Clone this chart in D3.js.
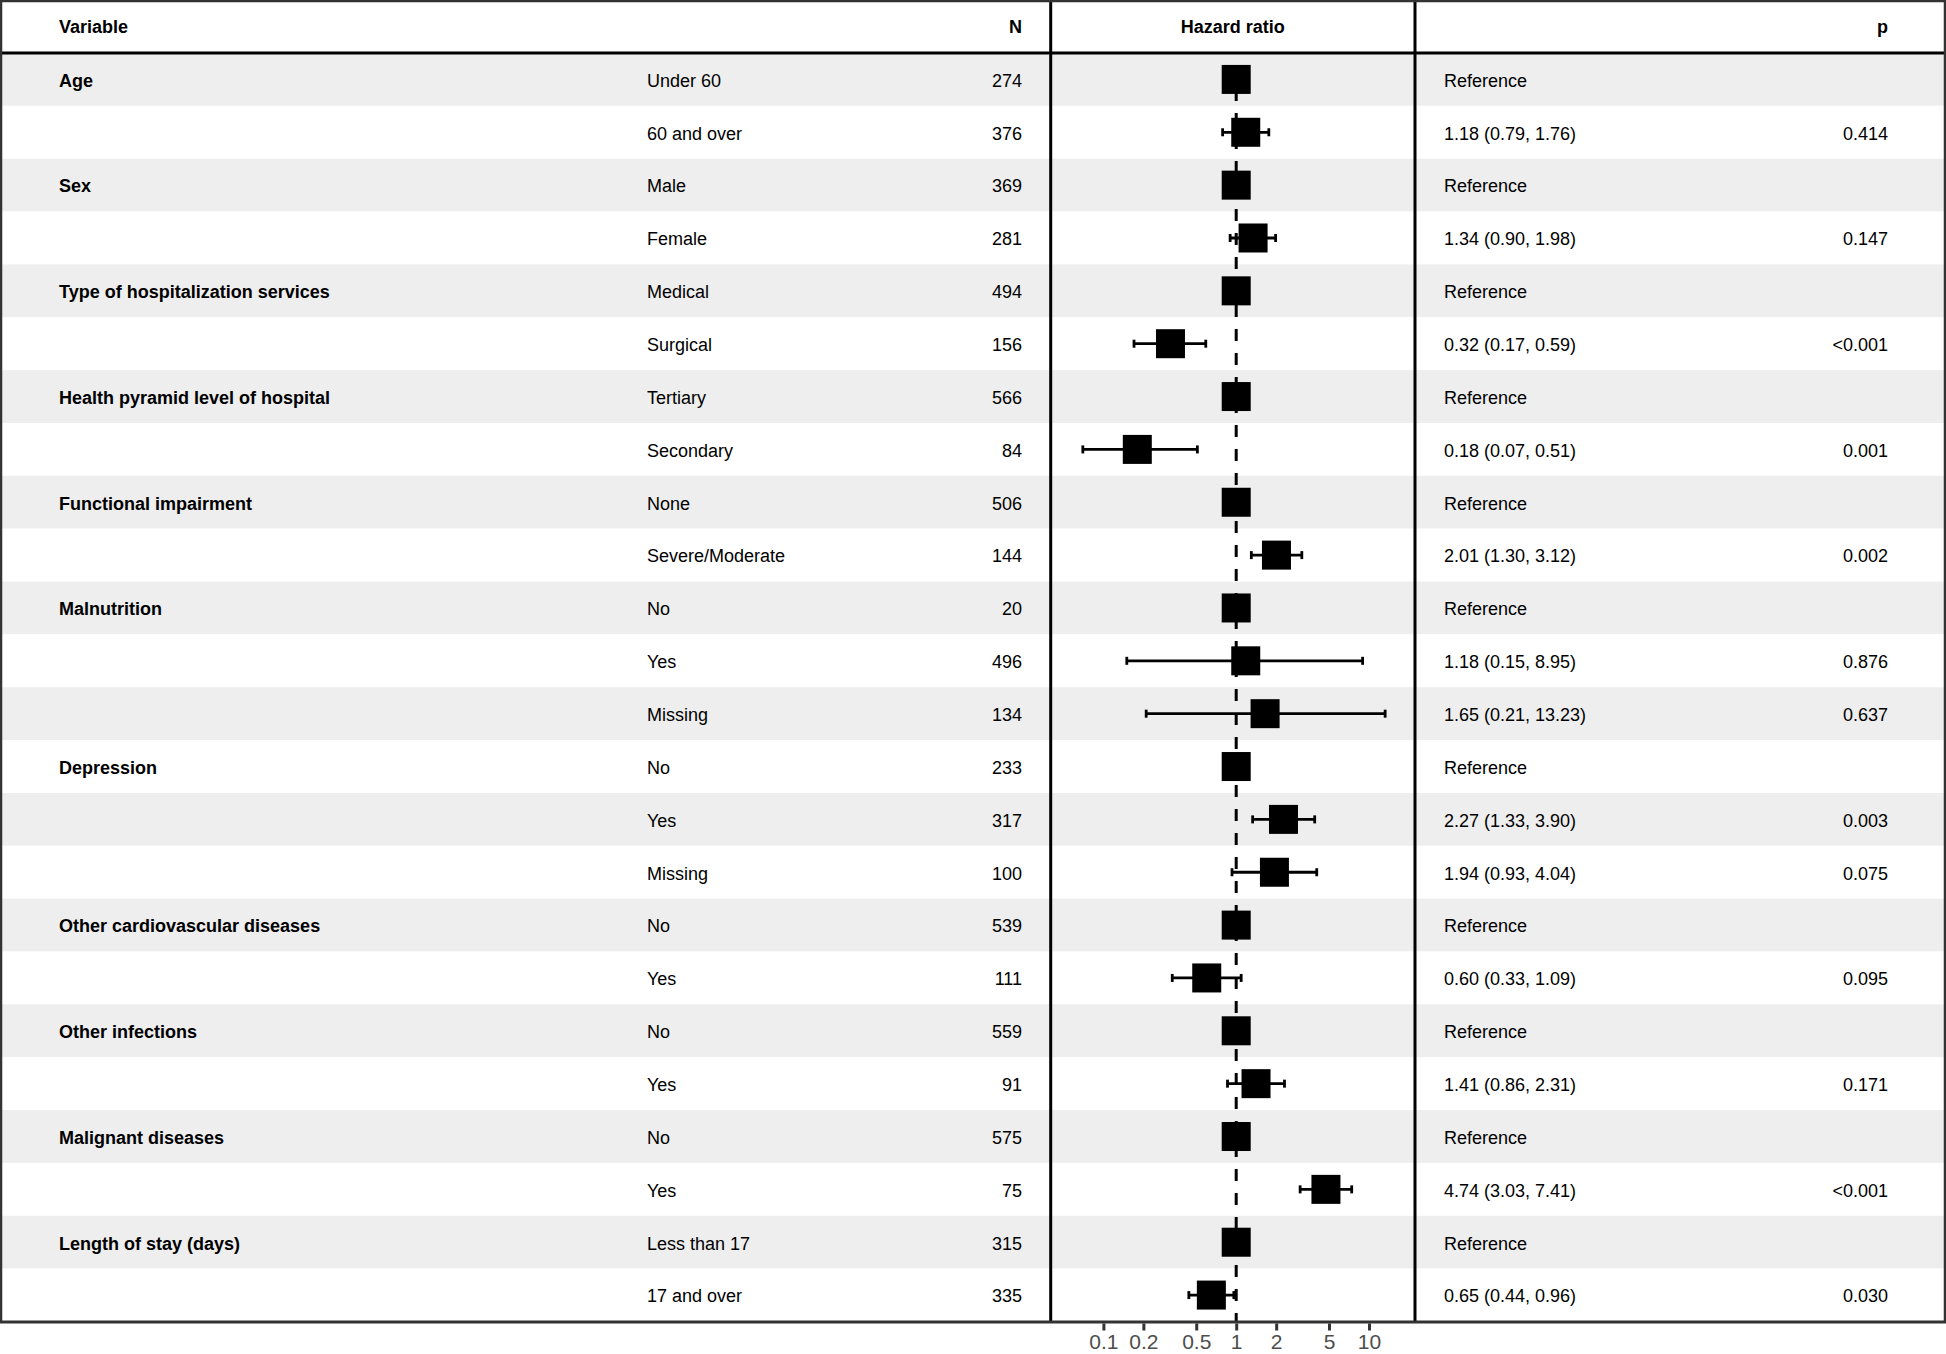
<!DOCTYPE html>
<html>
<head>
<meta charset="utf-8">
<script src="https://cdn.jsdelivr.net/npm/d3@7"></script>
<style>
  html, body { margin: 0; padding: 0; background: #fff; }
  svg { display: block; font-family: "Liberation Sans", Arial, Helvetica, sans-serif; }
</style>
</head>
<body>
<svg id="chart"></svg>
<script>
// Table rows
const variables = ["Age", "", "Sex", "", "Type of hospitalization services", "",
  "Health pyramid level of hospital", "", "Functional impairment", "",
  "Malnutrition", "", "", "Depression", "", "", "Other cardiovascular diseases", "",
  "Other infections", "", "Malignant diseases", "", "Length of stay (days)", ""];
const levels = ["Under 60", "60 and over", "Male", "Female", "Medical", "Surgical",
  "Tertiary", "Secondary", "None", "Severe/Moderate", "No", "Yes", "Missing",
  "No", "Yes", "Missing", "No", "Yes", "No", "Yes", "No", "Yes", "Less than 17", "17 and over"];
const counts = [274, 376, 369, 281, 494, 156, 566, 84, 506, 144, 20, 496, 134,
  233, 317, 100, 539, 111, 559, 91, 575, 75, 315, 335];
// null = reference level (HR 1)
const hr    = [null, 1.18, null, 1.34, null, 0.32, null, 0.18, null, 2.01, null, 1.18, 1.65,
  null, 2.27, 1.94, null, 0.60, null, 1.41, null, 4.74, null, 0.65];
const lower = [null, 0.79, null, 0.90, null, 0.17, null, 0.07, null, 1.30, null, 0.15, 0.21,
  null, 1.33, 0.93, null, 0.33, null, 0.86, null, 3.03, null, 0.44];
const upper = [null, 1.76, null, 1.98, null, 0.59, null, 0.51, null, 3.12, null, 8.95, 13.23,
  null, 3.90, 4.04, null, 1.09, null, 2.31, null, 7.41, null, 0.96];
const pvals = ["", "0.414", "", "0.147", "", "<0.001", "", "0.001", "", "0.002", "", "0.876", "0.637",
  "", "0.003", "0.075", "", "0.095", "", "0.171", "", "<0.001", "", "0.030"];
const tickValues = [0.1, 0.2, 0.5, 1, 2, 5, 10];

const width = 1946, height = 1354;
const headerH = 53, tableBottom = 1321.5;
const panelLeft = 1050.7, panelRight = 1415;
const fmt = d3.format(".2f");

const rows = levels.map((lvl, i) => ({
  i, variable: variables[i], level: lvl, n: counts[i],
  hr: hr[i], lo: lower[i], hi: upper[i], p: pvals[i]
}));

const svg = d3.select("#chart").attr("width", width).attr("height", height);

const y = d3.scaleBand()
  .domain(rows.map(d => d.i))
  .range([headerH, tableBottom]);

const x = d3.scaleLog()
  .domain([0.1, 10])
  .range([1103.4, 1369]);

// Row stripes
svg.append("g").selectAll("rect")
  .data(rows)
  .enter()
  .append("rect")
  .attr("x", 0)
  .attr("y", d => y(d.i))
  .attr("width", width)
  .attr("height", y.bandwidth())
  .style("fill", d => d.i % 2 === 0 ? "#eeeeee" : "#ffffff");

// Text columns
const textG = svg.append("g").style("font-size", "18px").style("fill", "#000");
const cy = d => y(d.i) + y.bandwidth() / 2;

textG.selectAll("text.var")
  .data(rows.filter(d => d.variable))
  .enter().append("text")
  .attr("x", 59).attr("y", d => cy(d) + 1).attr("dy", "0.35em")
  .style("font-weight", "bold")
  .text(d => d.variable);

textG.selectAll("text.lvl")
  .data(rows)
  .enter().append("text")
  .attr("x", 647).attr("y", d => cy(d) + 1).attr("dy", "0.35em")
  .text(d => d.level);

textG.selectAll("text.n")
  .data(rows)
  .enter().append("text")
  .attr("x", 1022).attr("y", d => cy(d) + 1).attr("dy", "0.35em")
  .style("text-anchor", "end")
  .text(d => d.n);

textG.selectAll("text.est")
  .data(rows)
  .enter().append("text")
  .attr("x", 1444).attr("y", d => cy(d) + 1).attr("dy", "0.35em")
  .text(d => d.hr === null ? "Reference" : `${fmt(d.hr)} (${fmt(d.lo)}, ${fmt(d.hi)})`);

textG.selectAll("text.p")
  .data(rows)
  .enter().append("text")
  .attr("x", 1888).attr("y", d => cy(d) + 1).attr("dy", "0.35em")
  .style("text-anchor", "end")
  .text(d => d.p);

// Header
const header = svg.append("g").style("font-size", "18px").style("font-weight", "bold");
header.append("text").attr("x", 59).attr("y", 27).attr("dy", "0.35em").text("Variable");
header.append("text").attr("x", 1022).attr("y", 27).attr("dy", "0.35em")
  .style("text-anchor", "end").text("N");
header.append("text").attr("x", (panelLeft + panelRight) / 2).attr("y", 27).attr("dy", "0.35em")
  .style("text-anchor", "middle").text("Hazard ratio");
header.append("text").attr("x", 1888).attr("y", 27).attr("dy", "0.35em")
  .style("text-anchor", "end").text("p");

// Null line at HR = 1
svg.append("line")
  .attr("x1", x(1)).attr("x2", x(1))
  .attr("y1", headerH).attr("y2", tableBottom)
  .style("stroke", "#000")
  .style("stroke-width", 3)
  .style("stroke-dasharray", "12,12")
  .style("stroke-dashoffset", 12);

// Confidence intervals
const est = rows.filter(d => d.hr !== null);
const ci = svg.append("g").style("stroke", "#000").style("stroke-width", 2.8);
ci.selectAll("line.ci")
  .data(est)
  .enter().append("line")
  .attr("x1", d => x(d.lo)).attr("x2", d => x(d.hi))
  .attr("y1", cy).attr("y2", cy);
["lo", "hi"].forEach(k => {
  ci.selectAll("line.cap-" + k)
    .data(est)
    .enter().append("line")
    .attr("x1", d => x(d[k])).attr("x2", d => x(d[k]))
    .attr("y1", d => cy(d) - 4).attr("y2", d => cy(d) + 4);
});

// Point estimates
const sq = 29;
svg.append("g").selectAll("rect")
  .data(rows)
  .enter().append("rect")
  .attr("x", d => x(d.hr === null ? 1 : d.hr) - sq / 2)
  .attr("y", d => cy(d) - sq / 2)
  .attr("width", sq).attr("height", sq)
  .style("fill", "#000");

// Rules and frame
const rules = svg.append("g");
rules.append("line")
  .attr("x1", 0).attr("x2", width).attr("y1", headerH).attr("y2", headerH)
  .style("stroke", "#000").style("stroke-width", 3);
[panelLeft, panelRight].forEach(px => {
  rules.append("line")
    .attr("x1", px).attr("x2", px).attr("y1", 0).attr("y2", tableBottom)
    .style("stroke", "#000").style("stroke-width", 3);
});
rules.append("line")
  .attr("x1", 0).attr("x2", width).attr("y1", 1).attr("y2", 1)
  .style("stroke", "#333").style("stroke-width", 2.5);
rules.append("line")
  .attr("x1", 1).attr("x2", 1).attr("y1", 0).attr("y2", tableBottom)
  .style("stroke", "#333").style("stroke-width", 2.5);
rules.append("line")
  .attr("x1", width - 1).attr("x2", width - 1).attr("y1", 0).attr("y2", tableBottom)
  .style("stroke", "#333").style("stroke-width", 2.5);
rules.append("line")
  .attr("x1", 0).attr("x2", width).attr("y1", tableBottom + 0.5).attr("y2", tableBottom + 0.5)
  .style("stroke", "#333").style("stroke-width", 3);

// Log axis
const axis = svg.append("g")
  .attr("transform", `translate(0,${tableBottom + 2})`)
  .call(d3.axisBottom(x).tickValues(tickValues).tickFormat(d3.format("")).tickSize(7).tickPadding(4));
axis.select(".domain").remove();
axis.selectAll(".tick line").style("stroke", "#333").style("stroke-width", 3);
axis.selectAll(".tick text")
  .style("font-family", "'Liberation Sans', Arial, sans-serif")
  .style("font-size", "21px")
  .style("fill", "#4d4d4d");
</script>
</body>
</html>
